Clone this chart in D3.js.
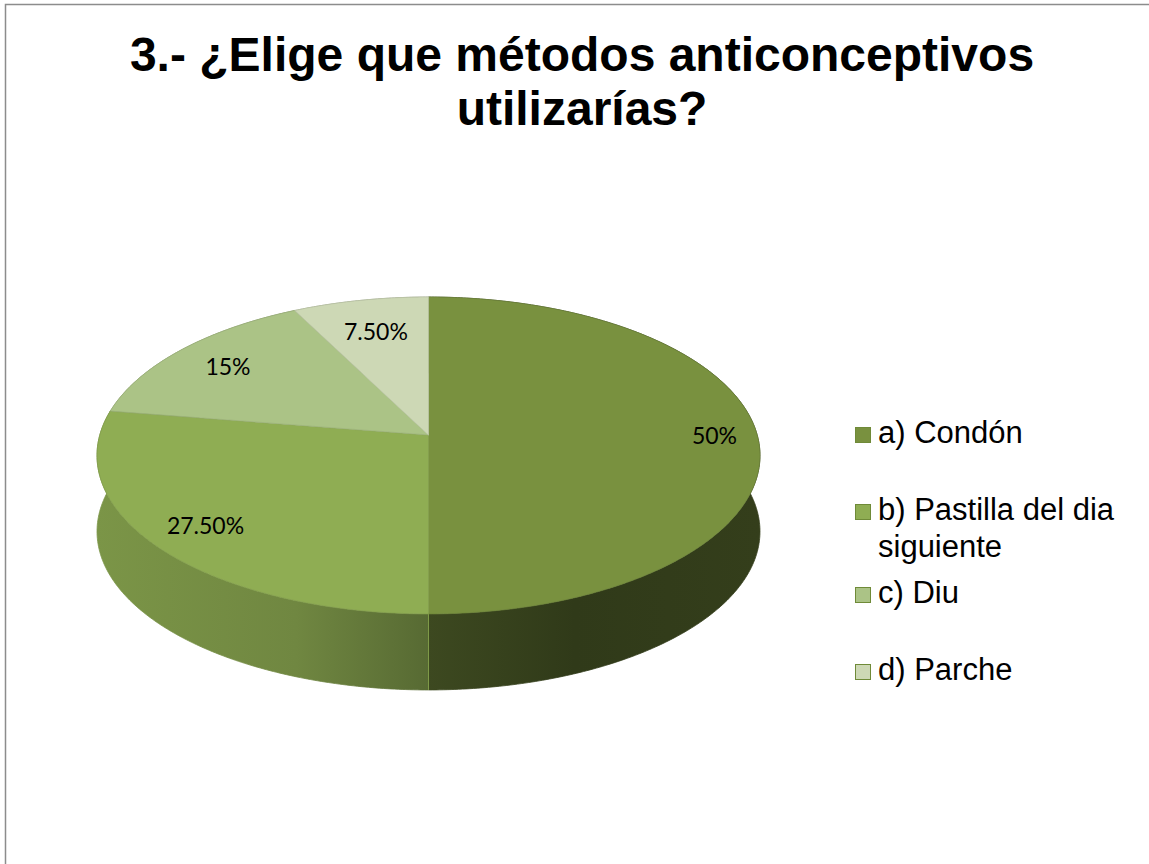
<!DOCTYPE html>
<html>
<head>
<meta charset="utf-8">
<script src="https://cdn.jsdelivr.net/npm/d3@7/dist/d3.min.js"></script>
<style>
  html, body { margin: 0; padding: 0; background: #fff; }
  svg { display: block; }
</style>
</head>
<body>
<svg id="chart" width="1149" height="864"></svg>
<script>
// Survey answers: which contraceptive methods would you use?
const categories = ["a) Condón", "b) Pastilla del dia siguiente", "c) Diu", "d) Parche"];
const legendLines = [["a) Condón"], ["b) Pastilla del dia", "siguiente"], ["c) Diu"], ["d) Parche"]];
const values = [50, 27.5, 15, 7.5];
const valueLabels = ["50%", "27.50%", "15%", "7.50%"];
const titleLines = ["3.- ¿Elige que métodos anticonceptivos", "utilizarías?"];
const sliceColors = ["#79913f", "#8fad53", "#abc386", "#cdd8b5"];

const W = 1149, H = 864;
const svg = d3.select("#chart");
const defs = svg.append("defs");

// frame
svg.append("rect")
  .attr("x", 5.5).attr("y", 4.5)
  .attr("width", W + 20).attr("height", H + 20)
  .attr("fill", "#fff").attr("stroke", "#8c8c8c").attr("stroke-width", 1.5);

// title
svg.append("g").selectAll("text").data(titleLines).join("text")
  .attr("x", 582).attr("y", (d, i) => 71 + i * 54)
  .attr("text-anchor", "middle")
  .attr("font-family", "Liberation Sans, Arial, sans-serif")
  .attr("font-weight", "bold").attr("font-size", 48)
  .attr("fill", "#000")
  .text(d => d);

// ---- 3D pie with a perspective camera ----
const cx = 428.5, cy = 435;      // screen position of the pie centre
const k = 328.7;                 // screen radius at centre depth
const elev = Math.asin(0.474);   // camera elevation
const sinE = Math.sin(elev), cosE = Math.cos(elev);
const rd = 0.1468;               // radius / camera distance
const wall = 76;                 // wall height on screen

// u: right, v: away from viewer (in pie radii)
function project(u, v) {
  const Y = v * sinE;
  const Z = (1 / rd + v * cosE) * rd;
  return [cx + k * u / Z, cy - k * Y / Z];
}
// angle measured clockwise from the far side of the pie
const rim = (t, rho, drop) => {
  const p = project(rho * Math.sin(t), rho * Math.cos(t));
  return [p[0], p[1] + (drop || 0)];
};

const pie = d3.pie().sort(null).value(d => d).startAngle(0).endAngle(2 * Math.PI);
const arcs = pie(values);

function sampleArc(a0, a1, rho, drop) {
  const n = Math.max(8, Math.ceil((a1 - a0) / 0.01));
  return d3.range(n + 1).map(i => rim(a0 + (a1 - a0) * i / n, rho, drop));
}

const line = d3.line();
const gPie = svg.append("g");

// side gradients (horizontal shading across the pie)
const x0 = cx - k * 1.01, x1 = cx + k * 1.01;
const sideStops = [
  [[0.5, 0.50], [0.72, 0.40], [1.0, 0.43]],
  [[0.0, 0.86], [0.3, 0.78], [0.5, 0.61]],
  [[0.0, 0.8], [1.0, 0.6]],
  [[0.0, 0.8], [1.0, 0.6]]
];
sliceColors.forEach((c, i) => {
  const g = defs.append("linearGradient").attr("id", "side" + i)
    .attr("gradientUnits", "userSpaceOnUse")
    .attr("x1", x0).attr("x2", x1).attr("y1", 0).attr("y2", 0);
  const base = d3.rgb(c);
  sideStops[i].forEach(([o, f]) => {
    g.append("stop").attr("offset", o)
      .attr("stop-color", d3.rgb(base.r * f, base.g * f, base.b * f).formatHex());
  });
});

// outer walls, far ones first
const wallOrder = arcs.map((a, i) => i)
  .sort((p, q) => Math.cos((arcs[q].startAngle + arcs[q].endAngle) / 2) -
                  Math.cos((arcs[p].startAngle + arcs[p].endAngle) / 2));
wallOrder.forEach(i => {
  const a = arcs[i];
  const top = sampleArc(a.startAngle, a.endAngle, 1, 0);
  const bot = sampleArc(a.startAngle, a.endAngle, 1, wall).reverse();
  gPie.append("path")
    .attr("d", line(top.concat(bot)) + "Z")
    .attr("fill", `url(#side${i})`)
    .attr("stroke", `url(#side${i})`).attr("stroke-width", 0.8);
});

// seam on the wall where the first slice ends
[arcs[0].endAngle].forEach(t => {
  const p0 = rim(t, 1, 0), p1 = rim(t, 1, wall);
  gPie.append("line")
    .attr("x1", p0[0]).attr("y1", p0[1]).attr("x2", p1[0]).attr("y2", p1[1])
    .attr("stroke", "#7e9a48").attr("stroke-width", 1);
});

// top faces
arcs.forEach((a, i) => {
  const pts = [project(0, 0)].concat(sampleArc(a.startAngle, a.endAngle, 1, 0));
  gPie.append("path")
    .attr("d", line(pts) + "Z")
    .attr("fill", sliceColors[i])
    .attr("stroke", d3.color(sliceColors[i]).darker(0.25))
    .attr("stroke-width", 0.7).attr("stroke-linejoin", "round");
});

// value labels
const labelRadius = [0.87, 0.83, 0.8, 0.75];
svg.append("g").selectAll("text").data(arcs).join("text")
  .attr("transform", (d, i) => {
    const p = rim((d.startAngle + d.endAngle) / 2, labelRadius[i], 0);
    return `translate(${p[0]},${p[1] + 9})`;
  })
  .attr("text-anchor", "middle")
  .attr("font-family", "Lato, 'Open Sans', sans-serif")
  .attr("font-size", 23).attr("fill", "#000")
  .text((d, i) => valueLabels[i]);

// legend
const legendY = [443, 520, 603, 680];
const leg = svg.append("g");
categories.forEach((c, i) => {
  const g = leg.append("g").attr("transform", `translate(855,${legendY[i]})`);
  g.append("rect").attr("x", 0.5).attr("y", -15.5).attr("width", 15).attr("height", 15)
    .attr("fill", sliceColors[i]).attr("stroke", "#6f8a38").attr("stroke-width", 1);
  g.append("text")
    .attr("x", 23).attr("y", 0)
    .attr("font-family", "Liberation Sans, Arial, sans-serif")
    .attr("font-size", 31).attr("fill", "#000")
    .selectAll("tspan").data(legendLines[i]).join("tspan")
    .attr("x", 23).attr("dy", (d, j) => j === 0 ? 0 : 37)
    .text(d => d);
});
</script>
</body>
</html>
